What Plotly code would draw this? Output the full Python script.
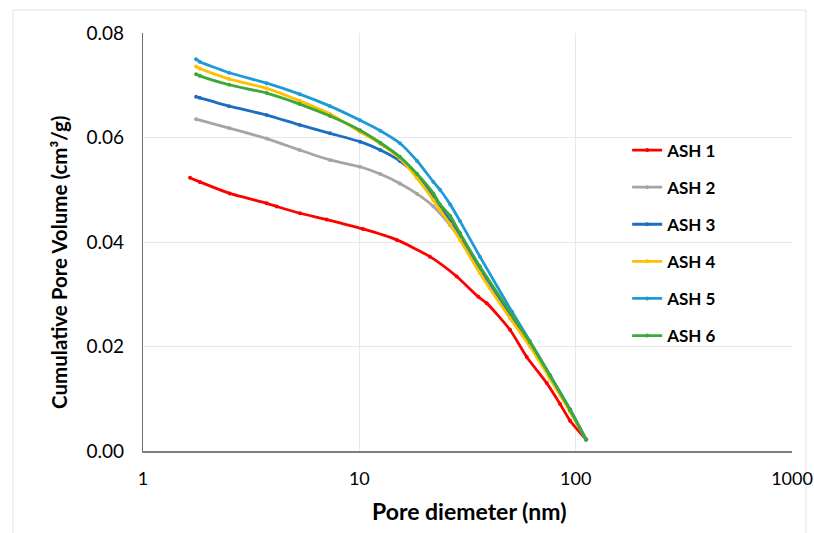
import plotly.graph_objects as go

# Cumulative pore volume curves (pore diameter in nm, volume in cm³/g)
ash1_d = [1.65, 1.83, 2.52, 3.73, 4.15, 5.32, 7.06, 10.4, 14.9, 21.2, 28.2, 35.5, 38.8, 49.7, 59.4, 73.5, 84.7, 94.2, 111.7]
ash1_v = [0.0523, 0.0515, 0.0493, 0.0474, 0.0468, 0.0455, 0.0443, 0.0425, 0.0404, 0.0372, 0.0334, 0.0295, 0.0283, 0.0232, 0.0180, 0.0130, 0.0090, 0.0058, 0.0022]

ash2_d = [1.76, 2.5, 3.73, 5.3, 7.32, 10.07, 12.5, 15.4, 18.5, 22.0, 26.3, 30.2, 32.5, 38.8, 49.7, 61.5, 76.2, 94.2, 111.7]
ash2_v = [0.0635, 0.0618, 0.0598, 0.0576, 0.0557, 0.0544, 0.0530, 0.0512, 0.0492, 0.0468, 0.0432, 0.0398, 0.0378, 0.0326, 0.0262, 0.0204, 0.0141, 0.0077, 0.0022]

ash3_d = [1.76, 1.83, 2.5, 3.73, 5.3, 7.32, 10.07, 12.5, 15.4, 18.5, 20.5, 22.0, 26.3, 32.5, 38.8, 49.7, 61.5, 76.2, 94.2, 111.7]
ash3_v = [0.0678, 0.0676, 0.0660, 0.0643, 0.0624, 0.0608, 0.0592, 0.0576, 0.0555, 0.0528, 0.0506, 0.0487, 0.0440, 0.0380, 0.0330, 0.0262, 0.0205, 0.0142, 0.0077, 0.0022]

ash4_d = [1.76, 1.83, 2.5, 3.73, 5.3, 7.32, 10.07, 12.5, 15.4, 18.5, 22.0, 23.6, 26.3, 29.2, 36.1, 49.7, 61.5, 76.2, 94.2, 111.7]
ash4_v = [0.0736, 0.0732, 0.0712, 0.0694, 0.0670, 0.0645, 0.0611, 0.0588, 0.0560, 0.0522, 0.0480, 0.0461, 0.0434, 0.0404, 0.0340, 0.0254, 0.0200, 0.0138, 0.0075, 0.0022]

ash5_d = [1.76, 1.83, 2.5, 3.73, 5.3, 7.32, 10.07, 12.5, 15.4, 18.5, 22.0, 23.6, 26.3, 29.2, 36.1, 50.7, 61.5, 76.2, 94.2, 111.7]
ash5_v = [0.0750, 0.0745, 0.0724, 0.0704, 0.0683, 0.0660, 0.0633, 0.0613, 0.0589, 0.0555, 0.0515, 0.0500, 0.0472, 0.0440, 0.0372, 0.0267, 0.0210, 0.0145, 0.0080, 0.0022]

ash6_d = [1.76, 1.83, 2.5, 3.73, 5.3, 7.32, 10.07, 12.5, 15.4, 18.5, 22.0, 23.6, 26.3, 29.2, 36.1, 51.4, 61.5, 76.2, 94.2, 111.7]
ash6_v = [0.0721, 0.0718, 0.0701, 0.0685, 0.0664, 0.0641, 0.0614, 0.0590, 0.0563, 0.0530, 0.0493, 0.0472, 0.0450, 0.0417, 0.0353, 0.0257, 0.0208, 0.0144, 0.0079, 0.0022]

names = ["ASH 1", "ASH 2", "ASH 3", "ASH 4", "ASH 5", "ASH 6"]
colors = ["#FF0000", "#A5A5A5", "#1C6DC4", "#FFC000", "#1E9BD7", "#3CA83A"]
series = [(ash1_d, ash1_v), (ash2_d, ash2_v), (ash3_d, ash3_v),
          (ash4_d, ash4_v), (ash5_d, ash5_v), (ash6_d, ash6_v)]

x_ticks = [1, 10, 100, 1000]
y_ticks = [0.00, 0.02, 0.04, 0.06, 0.08]

x_title = "Pore diemeter (nm)"
y_title = "Cumulative Pore Volume (cm³/g)"

FONT = "Lato, Calibri, Arial, sans-serif"

fig = go.Figure()
for name, color, (d, v) in zip(names, colors, series):
    fig.add_trace(go.Scatter(
        x=d, y=v, name=name, legendgroup=name,
        mode="lines+markers",
        line=dict(color=color, width=2.8, shape="spline", smoothing=0.6),
        marker=dict(color=color, size=4),
    ))

fig.update_layout(
    width=814, height=533,
    margin=dict(l=143, r=22, t=33, b=82),
    paper_bgcolor="white", plot_bgcolor="white",
    font=dict(family=FONT, color="#000000"),
    showlegend=True,
    legend=dict(
        x=0.746, y=0.762, xanchor="left", yanchor="top",
        font=dict(family=FONT, size=17, color="#000000", weight="bold"),
        tracegroupgap=12, itemwidth=30,
        bgcolor="rgba(0,0,0,0)",
    ),
    xaxis=dict(
        type="log", range=[0, 3], automargin=False,
        tickvals=x_ticks, ticktext=[str(t) for t in x_ticks],
        showgrid=True, gridcolor="#E8E8E8", gridwidth=1,
        showline=True, linecolor="#7F7F7F", linewidth=1.5,
        ticks="", tickfont=dict(size=18, family=FONT),
        ticklabelstandoff=11, ticklabeloverflow="allow",
        zeroline=False,
    ),
    yaxis=dict(
        range=[0, 0.08], tickvals=y_ticks, tickformat=".2f", automargin=False,
        showgrid=True, gridcolor="#E8E8E8", gridwidth=1,
        showline=True, linecolor="#6E6E6E", linewidth=1.3,
        ticks="", tickfont=dict(size=19, family=FONT),
        ticklabelstandoff=14,
        zeroline=False,
    ),
    annotations=[
        dict(text=x_title, xref="paper", yref="paper", x=0.502, y=-0.1435,
             xanchor="center", yanchor="middle", showarrow=False,
             font=dict(size=23, family=FONT, weight="bold", color="#000000")),
        dict(text=y_title, xref="paper", yref="paper", x=-0.1294, y=0.450,
             xanchor="center", yanchor="middle", showarrow=False, textangle=-90,
             font=dict(size=20.5, family=FONT, weight="bold", color="#000000")),
    ],
)

# thin frame around the chart area
fig.add_shape(type="rect", xref="paper", yref="paper",
              x0=-0.2003, x1=1.0216, y0=-0.25, y1=1.055,
              line=dict(color="#E3E3E3", width=1), layer="below")

fig.write_html("out.html")
